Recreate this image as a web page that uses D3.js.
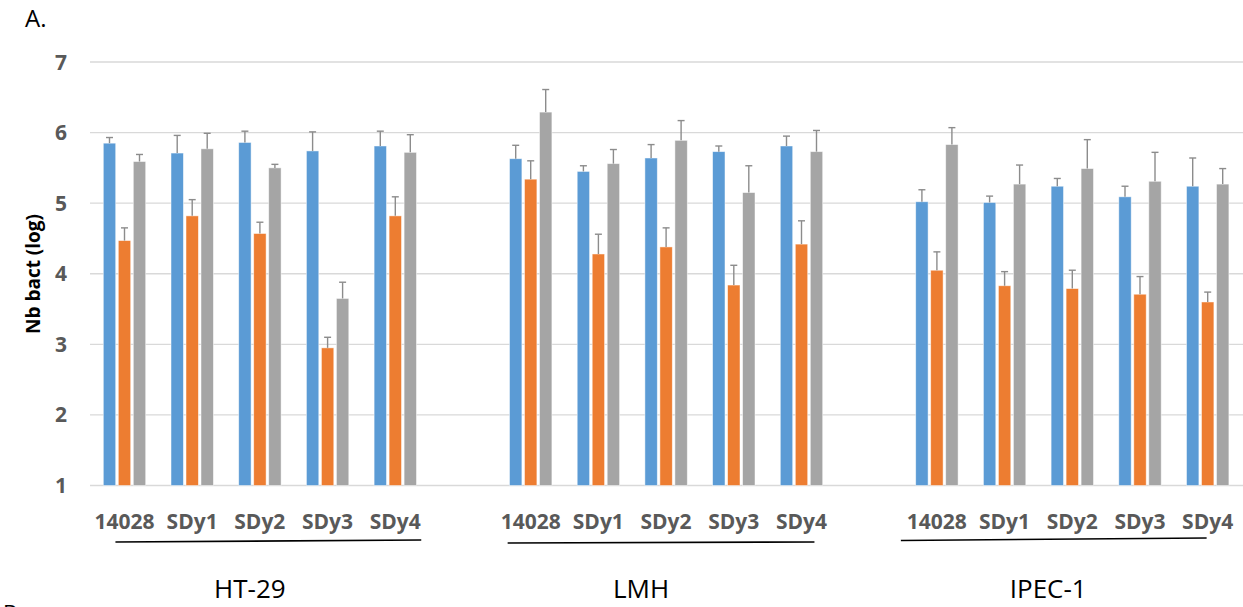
<!DOCTYPE html>
<html lang="en">
  <style>
    body { margin: 0; background: #fff; }
    .grid line { stroke: #d9d9d9; stroke-width: 1.3; }
    .ytick { font: 700 21px "Open Sans", sans-serif; fill: #595959; text-anchor: end; }
    .xtick { font: 700 21px "Open Sans", sans-serif; fill: #595959; text-anchor: middle; }
    .glabel { font: 26px "Open Sans", sans-serif; fill: #000; text-anchor: middle; }
  </style>
  <head>
    <meta charset="utf-8"/>
    <script src="https://d3js.org/d3.v7.min.js"></script>
  </head>
  <body>
    <svg class="chart"></svg>
  </body>
  <script>
    const width = 1243;
    const height = 607;

    const cells = ["HT-29", "LMH", "IPEC-1"];
    const strains = ["14028", "SDy1", "SDy2", "SDy3", "SDy4"];
    const yTicks = [1, 2, 3, 4, 5, 6, 7];
    const colors = ["#5b9bd5", "#ed7d31", "#a5a5a5"];

    // mean values, per cell line, per strain (blue, orange, gray)
    const blue = [
      [5.85, 5.71, 5.86, 5.74, 5.81],
      [5.63, 5.45, 5.64, 5.73, 5.81],
      [5.02, 5.01, 5.24, 5.09, 5.24]
    ];
    const orange = [
      [4.47, 4.82, 4.57, 2.95, 4.82],
      [5.34, 4.28, 4.38, 3.84, 4.42],
      [4.05, 3.83, 3.79, 3.71, 3.60]
    ];
    const gray = [
      [5.59, 5.77, 5.50, 3.65, 5.72],
      [6.29, 5.56, 5.89, 5.15, 5.73],
      [5.83, 5.27, 5.49, 5.31, 5.27]
    ];
    // error bars (upper only)
    const blueErr = [
      [0.08, 0.25, 0.16, 0.27, 0.21],
      [0.19, 0.08, 0.19, 0.08, 0.14],
      [0.17, 0.09, 0.11, 0.15, 0.40]
    ];
    const orangeErr = [
      [0.18, 0.23, 0.16, 0.15, 0.27],
      [0.26, 0.28, 0.27, 0.28, 0.33],
      [0.26, 0.20, 0.26, 0.25, 0.14]
    ];
    const grayErr = [
      [0.10, 0.22, 0.05, 0.23, 0.25],
      [0.32, 0.20, 0.28, 0.38, 0.30],
      [0.24, 0.27, 0.41, 0.41, 0.22]
    ];

    const series = [blue, orange, gray];
    const errs = [blueErr, orangeErr, grayErr];

    // categories with one empty slot between cell lines
    let cats = [];
    cells.forEach(function(c, ci) {
      strains.forEach(function(s) { cats.push(c + "|" + s); });
      if (ci < cells.length - 1) cats.push("gap" + ci);
    });

    let data = [];
    cells.forEach(function(c, ci) {
      strains.forEach(function(s, si) {
        series.forEach(function(sr, k) {
          data.push({cat: c + "|" + s, k: k, v: sr[ci][si], e: errs[k][ci][si]});
        });
      });
    });

    const x = d3.scaleBand().domain(cats).range([90.6, 1241.5]);
    const y = d3.scaleLinear().domain([1, 7]).range([485.5, 62]);
    const barStep = 15, barW = 12.4, barOff = 12.7;

    const svg = d3.select(".chart").attr("width", width).attr("height", height);

    svg.append("g").attr("class", "grid")
      .selectAll("line").data(yTicks).enter().append("line")
        .attr("x1", 90).attr("x2", 1243)
        .attr("y1", function(d) { return y(d); })
        .attr("y2", function(d) { return y(d); });

    svg.append("g").selectAll("text").data(yTicks).enter().append("text")
      .attr("class", "ytick")
      .attr("x", 67)
      .attr("y", function(d) { return y(d); })
      .attr("dy", "0.36em")
      .text(function(d) { return d; });

    let bx = function(d) { return x(d.cat) + barOff + d.k * barStep; };

    svg.append("g").selectAll("rect").data(data).enter().append("rect")
      .attr("x", bx)
      .attr("y", function(d) { return y(d.v); })
      .attr("width", barW)
      .attr("height", function(d) { return y(1) - y(d.v); })
      .attr("fill", function(d) { return colors[d.k]; })
      .attr("stroke", "#fff").attr("stroke-opacity", 0.6).attr("stroke-width", 0.8);

    let eb = svg.append("g").attr("stroke", "#8c8c8c").attr("stroke-width", 1.4)
      .selectAll("g").data(data).enter().append("g");
    eb.append("line")
      .attr("x1", function(d) { return bx(d) + barW / 2; })
      .attr("x2", function(d) { return bx(d) + barW / 2; })
      .attr("y1", function(d) { return y(d.v); })
      .attr("y2", function(d) { return y(d.v + d.e); });
    eb.append("line")
      .attr("x1", function(d) { return bx(d) + barW / 2 - 3.5; })
      .attr("x2", function(d) { return bx(d) + barW / 2 + 3.5; })
      .attr("y1", function(d) { return y(d.v + d.e); })
      .attr("y2", function(d) { return y(d.v + d.e); });

    // strain labels
    cells.forEach(function(c) {
      svg.append("g").selectAll("text").data(strains).enter().append("text")
        .attr("class", "xtick")
        .attr("x", function(s) { return x(c + "|" + s) + x.bandwidth() / 2; })
        .attr("y", 529)
        .text(function(s) { return s; });
    });

    // hand-drawn underline and cell line name under each group
    const lineFrom = [-9, -23, -36];
    const lineTo = [26, 13, -1];
    const lineY = [[542, 540], [543, 542], [540.5, 538]];
    const nameShift = [-10, -25, -24];
    cells.forEach(function(c, ci) {
      let x0 = x(c + "|" + strains[0]) + x.bandwidth() / 2;
      let x4 = x(c + "|" + strains[4]) + x.bandwidth() / 2;
      let mid = x(c + "|" + strains[2]) + x.bandwidth() / 2;
      svg.append("line")
        .attr("x1", x0 + lineFrom[ci]).attr("x2", x4 + lineTo[ci])
        .attr("y1", lineY[ci][0]).attr("y2", lineY[ci][1])
        .attr("stroke", "#000").attr("stroke-width", 1.6);
      svg.append("text").attr("class", "glabel")
        .attr("x", mid + nameShift[ci]).attr("y", 598)
        .text(c);
    });

    svg.append("text")
      .attr("transform", "translate(40,274) rotate(-90)")
      .attr("text-anchor", "middle")
      .style("font", "700 19px 'Open Sans', sans-serif")
      .text("Nb bact (log)");

    svg.append("text").attr("x", 25).attr("y", 27)
      .style("font", "24px 'Open Sans', sans-serif")
      .text("A.");
    svg.append("text").attr("x", 3).attr("y", 621)
      .style("font", "22px 'Open Sans', sans-serif")
      .text("B.");
  </script>
</html>
